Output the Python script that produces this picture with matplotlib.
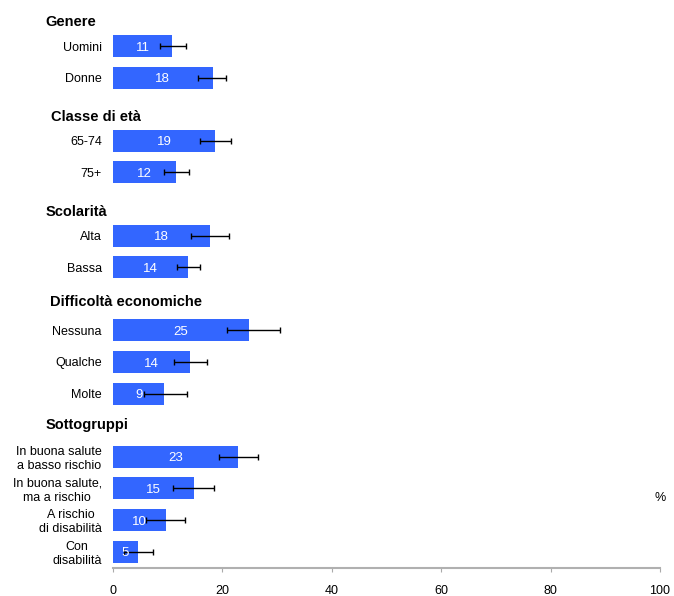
import matplotlib.pyplot as plt
from matplotlib.transforms import blended_transform_factory

plt.rcParams['font.family'] = ['Liberation Sans', 'DejaVu Sans']

# categories, values (%) and 95% CI
labels = ['Uomini', 'Donne', '65-74', '75+', 'Alta', 'Bassa',
          'Nessuna', 'Qualche', 'Molte',
          'In buona salute\na basso rischio', 'In buona salute,\nma a rischio',
          'A rischio\ndi disabilità', 'Con\ndisabilità']
values = [10.8, 18.2, 18.7, 11.6, 17.8, 13.8, 24.9, 14.1, 9.4, 22.9, 14.8, 9.7, 4.6]
ci_low = [8.6, 15.6, 15.9, 9.3, 14.3, 11.7, 20.8, 11.2, 5.7, 19.4, 11.0, 6.0, 2.0]
ci_high = [13.3, 20.7, 21.6, 13.9, 21.2, 15.9, 30.5, 17.2, 13.6, 26.5, 18.5, 13.2, 7.3]

groups = ['Genere', 'Classe di età', 'Scolarità', 'Difficoltà economiche', 'Sottogruppi']

# layout: slot of each bar, header rows and x of header text
slots = [0, 1, 3, 4, 6, 7, 9, 10, 11, 13, 14, 15, 16]
header_y = [-0.76, 2.25, 5.25, 8.1, 12.0]
header_x = [0.068, 0.076, 0.067, 0.074, 0.068]

fig = plt.figure(figsize=(6.74, 5.96), dpi=100)
ax = fig.add_axes([113 / 674, 1 - 568 / 596, (660 - 113) / 674, 568 / 596])

bar_color = '#3366FF'
ax.barh(slots, values, height=0.7, color=bar_color, zorder=2)

xerr = [[v - lo for v, lo in zip(values, ci_low)],
        [hi - v for v, hi in zip(values, ci_high)]]
ax.errorbar(values, slots, xerr=xerr, fmt='none', ecolor='black',
            elinewidth=1, capsize=2.5, capthick=1, zorder=3)

for y, v in zip(slots, values):
    ax.text(v / 2, y + 0.05, f'{round(v):d}', ha='center', va='center',
            color='white', fontsize=9.5, zorder=4)

ax.set_xlim(0, 100)
ax.set_ylim(16.52, -1.456)
ax.set_yticks(slots)
ax.set_yticklabels(labels, fontsize=9)
for t in ax.get_yticklabels():
    t.set_multialignment('center')
ax.tick_params(axis='y', length=0, pad=8)

ax.set_xticks([0, 20, 40, 60, 80, 100])
ax.tick_params(axis='x', labelsize=9, color='#aaaaaa', length=3, pad=9)
for side in ['top', 'right', 'left']:
    ax.spines[side].set_visible(False)
ax.spines['bottom'].set_color('#b0b0b0')
ax.spines['bottom'].set_linewidth(1.5)

trans = blended_transform_factory(fig.transFigure, ax.transData)
for g, gy, gx in zip(groups, header_y, header_x):
    ax.text(gx, gy, g, transform=trans, ha='left', va='center',
            fontsize=10.5, fontweight='bold', clip_on=False)

ax.text(100, 14.3, '%', ha='center', va='center', fontsize=9)

fig.savefig('out.png', dpi=100)
